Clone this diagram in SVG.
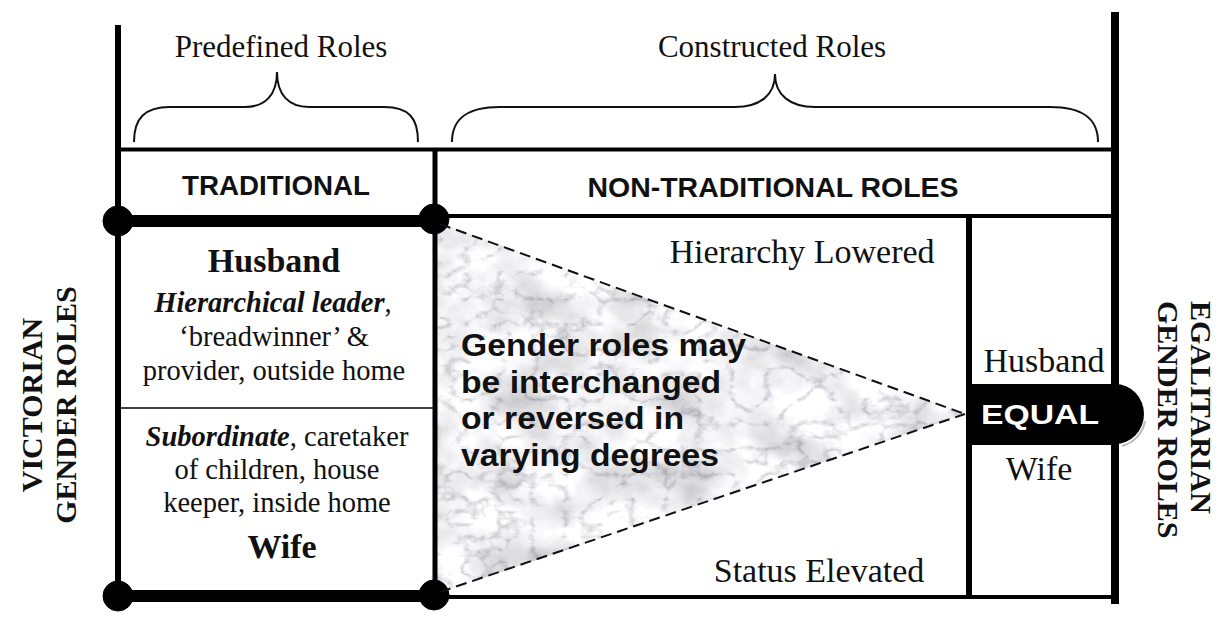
<svg xmlns="http://www.w3.org/2000/svg" width="1222" height="617" viewBox="0 0 1222 617">
  <style>
    .serif { font-family: "Liberation Serif", "Times New Roman", serif; fill: #111; }
    .sans { font-family: "Liberation Sans", Arial, sans-serif; font-weight: bold; fill: #111; }
    .frame { stroke: #000; fill: none; }
    .brace { stroke: #111; stroke-width: 2; fill: none; }
    .dash { stroke: #111; stroke-width: 2; stroke-dasharray: 11 6; fill: none; }
    .dot { fill: #000; }
  </style>
  <defs>
    <filter id="marble" x="0" y="0" width="100%" height="100%">
      <feTurbulence type="fractalNoise" baseFrequency="0.018 0.024" numOctaves="4" seed="3" result="a"/>
      <feColorMatrix in="a" type="matrix" values="0.8 0 0 0 0.48  0.8 0 0 0 0.48  0.8 0 0 0 0.5  0 0 0 0 1" result="A"/>
      <feTurbulence type="turbulence" baseFrequency="0.03 0.04" numOctaves="4" seed="11" result="b"/>
      <feColorMatrix in="b" type="matrix" values="1.5 0 0 0 0.6  1.5 0 0 0 0.6  1.5 0 0 0 0.62  0 0 0 0 1" result="B"/>
      <feBlend in="A" in2="B" mode="multiply" result="C"/>
      <feGaussianBlur in="C" stdDeviation="0.7"/>
    </filter>
    <clipPath id="triClip">
      <polygon points="437,222 965,414 437,594"/>
    </clipPath>
  </defs>

  <rect width="1222" height="617" fill="#fff"/>

  <!-- textured triangle -->
  <g id="triangle">
    <g clip-path="url(#triClip)">
      <rect x="437" y="222" width="530" height="374" filter="url(#marble)"/>
    </g>
  </g>

  <!-- frame lines -->
  <g id="frame" class="frame">
    <line x1="118" y1="25" x2="118" y2="600" stroke-width="6"/>
    <line x1="1115" y1="12" x2="1115" y2="604" stroke-width="8"/>
    <line x1="118" y1="149.5" x2="1115" y2="149.5" stroke-width="4"/>
    <line x1="435" y1="149" x2="435" y2="597" stroke-width="5"/>
    <line x1="435" y1="216" x2="1115" y2="216" stroke-width="4"/>
    <line x1="969" y1="216" x2="969" y2="597" stroke-width="6"/>
    <line x1="435" y1="597" x2="1115" y2="597" stroke-width="4"/>
    <line x1="118" y1="408" x2="435" y2="408" stroke-width="1.5"/>
    <line x1="118" y1="221" x2="434" y2="221" stroke-width="12"/>
    <line x1="118" y1="596" x2="434" y2="596" stroke-width="12"/>
    <circle class="dot" cx="118" cy="221" r="15"/>
    <circle class="dot" cx="434" cy="219" r="15"/>
    <circle class="dot" cx="118" cy="596" r="15"/>
    <circle class="dot" cx="434" cy="595" r="15"/>
  </g>

  <!-- connectors: braces and dashed triangle edges -->
  <g id="connectors">
    <path class="brace" d="M134,142 C134,118 145,107 170,107 L245,107 C265,107 277,95 277,72 C277,95 289,107 309,107 L384,107 C409,107 418,118 418,142"/>
    <path class="brace" d="M452,142 C452,118 468,107 500,107 L735,107 C760,107 775,95 775,74 C775,95 790,107 815,107 L1050,107 C1082,107 1098,118 1098,142"/>
    <line class="dash" x1="440" y1="224" x2="965" y2="414"/>
    <line class="dash" x1="440" y1="592" x2="965" y2="414"/>
  </g>

  <g id="predefined">
    <text class="serif" x="281" y="57" font-size="31" text-anchor="middle">Predefined Roles</text>
  </g>
  <g id="constructed">
    <text class="serif" x="772" y="57" font-size="31" text-anchor="middle">Constructed Roles</text>
  </g>

  <g id="traditional">
    <text class="sans" x="276" y="195" font-size="27" text-anchor="middle" textLength="188" lengthAdjust="spacingAndGlyphs">TRADITIONAL</text>
  </g>
  <g id="non-traditional">
    <text class="sans" x="773" y="197" font-size="27" text-anchor="middle" textLength="371" lengthAdjust="spacingAndGlyphs">NON-TRADITIONAL ROLES</text>
  </g>

  <g id="victorian-husband">
    <text class="serif" x="274" y="272" font-size="34" font-weight="bold" text-anchor="middle">Husband</text>
    <text class="serif" x="273" y="312" font-size="28.5" text-anchor="middle"><tspan font-weight="bold" font-style="italic">Hierarchical leader</tspan>,</text>
    <text class="serif" x="274" y="346" font-size="28.5" text-anchor="middle">‘breadwinner’ &amp;</text>
    <text class="serif" x="274" y="380" font-size="28.5" text-anchor="middle">provider, outside home</text>
  </g>

  <g id="victorian-wife">
    <text class="serif" x="277" y="446" font-size="28.5" text-anchor="middle"><tspan font-weight="bold" font-style="italic">Subordinate</tspan>, caretaker</text>
    <text class="serif" x="277" y="479" font-size="28.5" text-anchor="middle">of children, house</text>
    <text class="serif" x="277" y="512" font-size="28.5" text-anchor="middle">keeper, inside home</text>
    <text class="serif" x="282" y="558" font-size="34" font-weight="bold" text-anchor="middle">Wife</text>
  </g>

  <g id="interchange">
    <text class="sans" x="461" y="356" font-size="31" textLength="285" lengthAdjust="spacingAndGlyphs">Gender roles may</text>
    <text class="sans" x="461" y="393" font-size="31" textLength="260" lengthAdjust="spacingAndGlyphs">be interchanged</text>
    <text class="sans" x="461" y="429" font-size="31" textLength="223" lengthAdjust="spacingAndGlyphs">or reversed in</text>
    <text class="sans" x="461" y="466" font-size="31" textLength="258" lengthAdjust="spacingAndGlyphs">varying degrees</text>
  </g>

  <g id="hierarchy-lowered">
    <text class="serif" x="802" y="263" font-size="34" text-anchor="middle">Hierarchy Lowered</text>
  </g>
  <g id="status-elevated">
    <text class="serif" x="819" y="582" font-size="34" text-anchor="middle">Status Elevated</text>
  </g>

  <g id="equal">
    <rect x="969" y="384" width="146" height="61" fill="#000"/>
    <path d="M1115,384 A29,30 0 0 1 1115,444 Z" fill="#000"/>
    <path d="M1122,446 A31,31 0 0 0 1145,421" fill="none" stroke="#bbb" stroke-width="2"/>
    <text x="1040" y="424" font-family="'Liberation Sans', Arial, sans-serif" font-weight="bold" font-size="28" fill="#fff" text-anchor="middle" textLength="118" lengthAdjust="spacingAndGlyphs">EQUAL</text>
  </g>
  <g id="egal-husband">
    <text class="serif" x="1044" y="372" font-size="34" text-anchor="middle">Husband</text>
  </g>
  <g id="egal-wife">
    <text class="serif" x="1039" y="480" font-size="34" text-anchor="middle">Wife</text>
  </g>

  <g id="victorian-label">
    <text class="serif" font-size="30" font-weight="bold" text-anchor="middle" transform="translate(42,405) rotate(-90)">VICTORIAN</text>
    <text class="serif" font-size="30" font-weight="bold" text-anchor="middle" transform="translate(76,405) rotate(-90)">GENDER ROLES</text>
  </g>
  <g id="egalitarian-label">
    <text class="serif" font-size="30" font-weight="bold" transform="translate(1191,301) rotate(90)">EGALITARIAN</text>
    <text class="serif" font-size="30" font-weight="bold" transform="translate(1158,301) rotate(90)">GENDER ROLES</text>
  </g>
</svg>
